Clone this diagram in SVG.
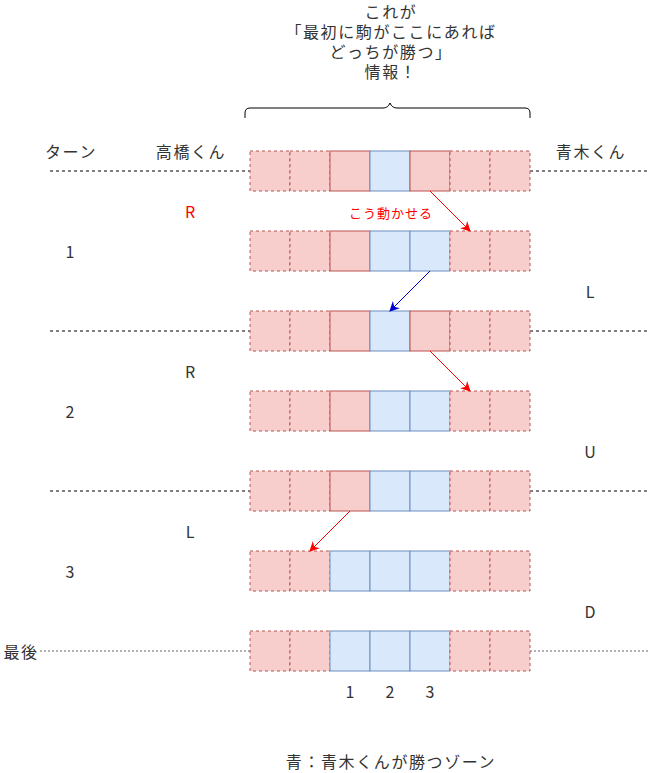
<svg xmlns="http://www.w3.org/2000/svg" width="652" height="773" viewBox="0 0 652 773">
<defs>
<style>
text{font-family:"Noto Sans CJK JP","Liberation Sans",sans-serif;font-size:16px;fill:#333;text-anchor:middle;dominant-baseline:central}
.j{letter-spacing:1.6px}
.r{fill:#f8cecc;stroke:#b85450;stroke-width:1}
.rd{fill:#f8cecc;stroke:#b85450;stroke-width:1;stroke-dasharray:3 3}
.b{fill:#dae8fc;stroke:#6c8ebf;stroke-width:1}
.sep{stroke:#000;stroke-width:1;stroke-dasharray:3 3;fill:none}
.sepg{stroke:#999;stroke-width:1.5;stroke-dasharray:2 2;fill:none}
</style>
<marker id="ar" viewBox="0 0 10 10" refX="9" refY="5" markerWidth="10" markerHeight="10" orient="auto"><path d="M0,0 L10,5 L0,10 L3,5 z" fill="#f00"/></marker>
<marker id="ab" viewBox="0 0 10 10" refX="9" refY="5" markerWidth="10" markerHeight="10" orient="auto"><path d="M0,0 L10,5 L0,10 L3,5 z" fill="#00c"/></marker>
</defs>
<rect width="652" height="773" fill="#fff"/>
<g id="separators">
<path class="sep" d="M50,171H250M530,171H650"/>
<path class="sep" d="M50,331H250M530,331H650"/>
<path class="sep" d="M50,491H250M530,491H650"/>
<path class="sepg" d="M40,651H250M530,651H650"/>
</g>
<g id="row1">
<rect class="rd" x="250" y="151" width="40" height="40"/><rect class="rd" x="290" y="151" width="40" height="40"/><rect class="r" x="330" y="151" width="40" height="40"/><rect class="b" x="370" y="151" width="40" height="40"/><rect class="r" x="410" y="151" width="40" height="40"/><rect class="rd" x="450" y="151" width="40" height="40"/><rect class="rd" x="490" y="151" width="40" height="40"/>
</g>
<g id="row2">
<rect class="rd" x="250" y="231" width="40" height="40"/><rect class="rd" x="290" y="231" width="40" height="40"/><rect class="r" x="330" y="231" width="40" height="40"/><rect class="b" x="370" y="231" width="40" height="40"/><rect class="b" x="410" y="231" width="40" height="40"/><rect class="rd" x="450" y="231" width="40" height="40"/><rect class="rd" x="490" y="231" width="40" height="40"/>
</g>
<g id="row3">
<rect class="rd" x="250" y="311" width="40" height="40"/><rect class="rd" x="290" y="311" width="40" height="40"/><rect class="r" x="330" y="311" width="40" height="40"/><rect class="b" x="370" y="311" width="40" height="40"/><rect class="r" x="410" y="311" width="40" height="40"/><rect class="rd" x="450" y="311" width="40" height="40"/><rect class="rd" x="490" y="311" width="40" height="40"/>
</g>
<g id="row4">
<rect class="rd" x="250" y="391" width="40" height="40"/><rect class="rd" x="290" y="391" width="40" height="40"/><rect class="r" x="330" y="391" width="40" height="40"/><rect class="b" x="370" y="391" width="40" height="40"/><rect class="b" x="410" y="391" width="40" height="40"/><rect class="rd" x="450" y="391" width="40" height="40"/><rect class="rd" x="490" y="391" width="40" height="40"/>
</g>
<g id="row5">
<rect class="rd" x="250" y="471" width="40" height="40"/><rect class="rd" x="290" y="471" width="40" height="40"/><rect class="r" x="330" y="471" width="40" height="40"/><rect class="b" x="370" y="471" width="40" height="40"/><rect class="b" x="410" y="471" width="40" height="40"/><rect class="rd" x="450" y="471" width="40" height="40"/><rect class="rd" x="490" y="471" width="40" height="40"/>
</g>
<g id="row6">
<rect class="rd" x="250" y="551" width="40" height="40"/><rect class="rd" x="290" y="551" width="40" height="40"/><rect class="b" x="330" y="551" width="40" height="40"/><rect class="b" x="370" y="551" width="40" height="40"/><rect class="b" x="410" y="551" width="40" height="40"/><rect class="rd" x="450" y="551" width="40" height="40"/><rect class="rd" x="490" y="551" width="40" height="40"/>
</g>
<g id="row7">
<rect class="rd" x="250" y="631" width="40" height="40"/><rect class="rd" x="290" y="631" width="40" height="40"/><rect class="b" x="330" y="631" width="40" height="40"/><rect class="b" x="370" y="631" width="40" height="40"/><rect class="b" x="410" y="631" width="40" height="40"/><rect class="rd" x="450" y="631" width="40" height="40"/><rect class="rd" x="490" y="631" width="40" height="40"/>
</g>
<g id="connectors" fill="none">
<path d="M430,191L470,231" stroke="#f00" marker-end="url(#ar)"/>
<path d="M430,271L390,311" stroke="#00c" marker-end="url(#ab)"/>
<path d="M430,351L470,391" stroke="#f00" marker-end="url(#ar)"/>
<path d="M350,511L310,551" stroke="#f00" marker-end="url(#ar)"/>
</g>
<g id="brace">
<path d="M245,118V113Q245,108 250,108H383Q388,108 390,103Q392,108 397,108H525Q530,108 530,113V118" fill="none" stroke="#000" stroke-width="1"/>
</g>
<g id="title">
<text class="j"><tspan x="391" y="11">これが</tspan><tspan x="391" y="31">「最初に駒がここにあれば</tspan><tspan x="391" y="51">どっちが勝つ」</tspan><tspan x="391" y="71">情報！</tspan></text>
</g>
<g id="labels">
<text class="j" x="71" y="151">ターン</text>
<text class="j" x="191" y="151">高橋くん</text>
<text class="j" x="591" y="151">青木くん</text>
<text x="190" y="211" style="fill:#f00">R</text>
<text class="j" x="391" y="212" style="fill:#f00;font-size:13px;letter-spacing:1px">こう動かせる</text>
<text x="70" y="251">1</text>
<text x="590" y="291">L</text>
<text x="190" y="371">R</text>
<text x="70" y="411">2</text>
<text x="590" y="451">U</text>
<text x="190" y="531">L</text>
<text x="70" y="571">3</text>
<text x="590" y="611">D</text>
<text class="j" x="21" y="651">最後</text>
<text x="350" y="691">1</text>
<text x="390" y="691">2</text>
<text x="430" y="691">3</text>
<text class="j" x="391" y="761">青：青木くんが勝つゾーン</text>
</g>
</svg>
